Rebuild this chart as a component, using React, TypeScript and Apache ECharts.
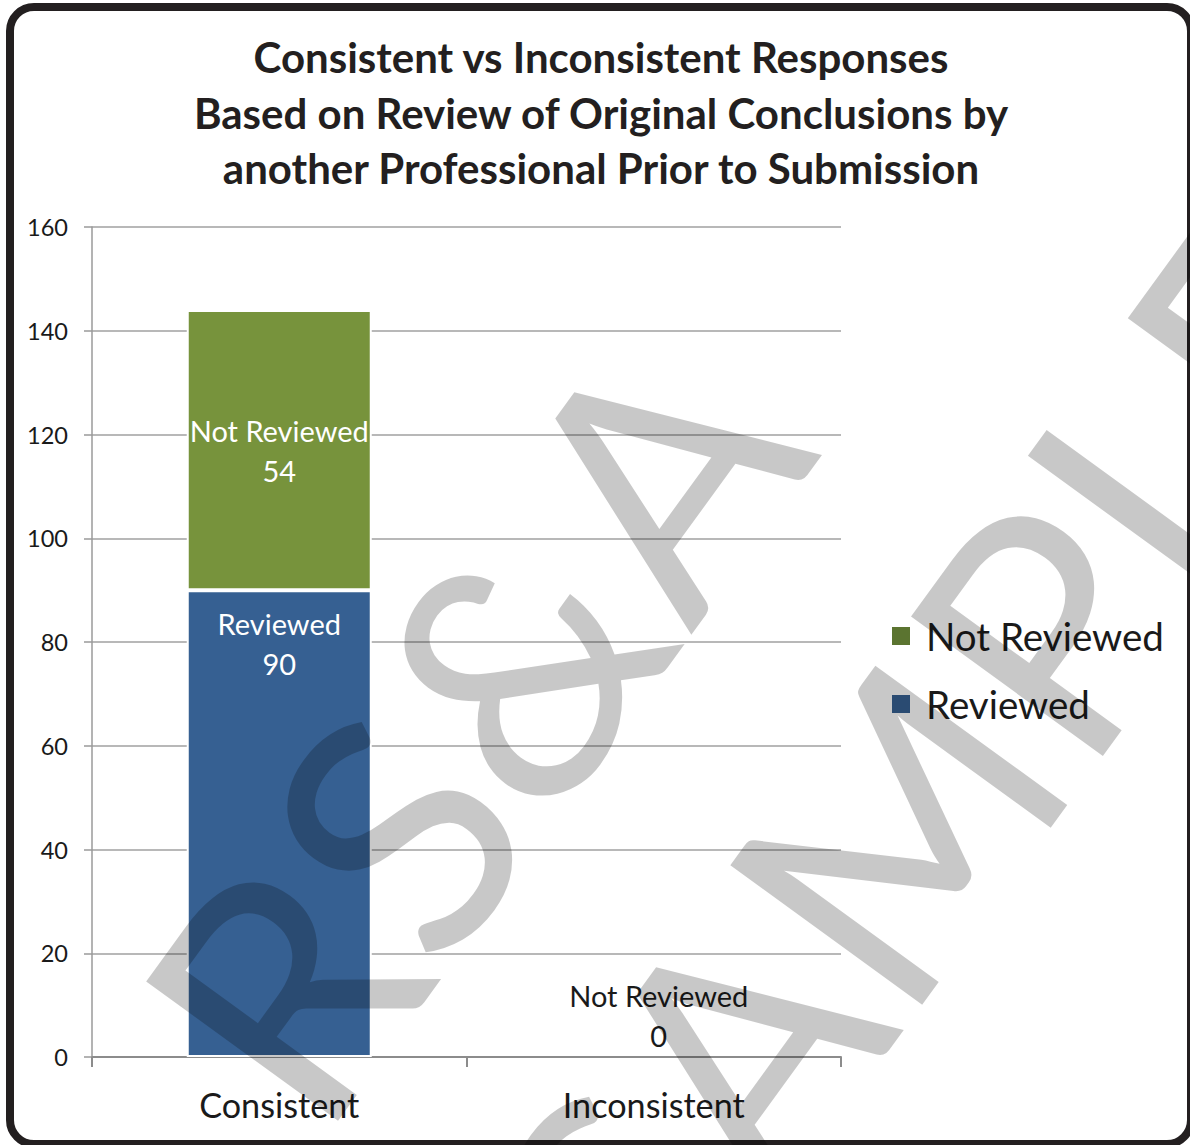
import React, { useEffect, useRef } from "react";
import * as echarts from "echarts";

const categories = ["Consistent", "Inconsistent"];
const reviewed = [90, 0];
const notReviewed = [54, 0];
const seriesNames = ["Reviewed", "Not Reviewed"];
const legendOrder = ["Not Reviewed", "Reviewed"];
const yMin = 0;
const yMax = 160;
const yInterval = 20;
const titleLines = [
  "Consistent vs Inconsistent Responses",
  "Based on Review of Original Conclusions by",
  "another Professional Prior to Submission",
];
const watermarkLines = ["RS&A", "SAMPLE"];

const W = 1190;
const H = 1145;
const FONT = "Lato";

function fit(text: string, weight: string, target: number): number {
  const c = document.createElement("canvas").getContext("2d");
  if (!c) return 20;
  c.font = `${weight} 100px ${FONT}`;
  const w = c.measureText(text).width;
  return (100 * target) / w;
}

export default function App() {
  const ref = useRef<HTMLDivElement>(null);
  useEffect(() => {
    document.body.style.margin = "0";
    if (!ref.current) return;
    const chart = echarts.init(ref.current, undefined, { renderer: "svg" });

    const titleSize = fit(titleLines[1], "bold", 816);
    const yLabSize = fit("160", "normal", 41);
    const xLabSize = fit("Inconsistent", "normal", 182);
    const xLabLH = Math.round(xLabSize * 1.2);
    const legendSize = fit("Not Reviewed", "normal", 238);
    const dataSize = fit("Not Reviewed", "normal", 179);

    const rot = (54 * Math.PI) / 180;
    const wmStyle = (text: string, align: string) => ({
      text,
      fill: "rgba(0,0,0,0.215)",
      font: `normal 331px ${FONT}`,
      align,
      verticalAlign: "middle",
    });

    const reviewedData = reviewed.map((v) =>
      v === 0 ? { value: v, label: { show: false }, itemStyle: { borderWidth: 0 } } : v
    );
    const notReviewedData = notReviewed.map((v) =>
      v === 0
        ? {
            value: v,
            itemStyle: { borderWidth: 0 },
            label: {
              show: true,
              position: "top",
              distance: 2,
              offset: [5, 0],
              color: "#1a1a1a",
            },
          }
        : v
    );

    const option: any = {
      animation: false,
      backgroundColor: "#ffffff",
      grid: { left: 92, right: 349, top: 227, bottom: 88, containLabel: false },
      xAxis: {
        type: "category",
        data: categories,
        axisLine: { show: true, lineStyle: { color: "#8c8c8c", width: 2 } },
        axisTick: { show: true, length: 10, lineStyle: { color: "#8c8c8c", width: 2 } },
        axisLabel: {
          color: "#1a1a1a",
          fontFamily: FONT,
          fontSize: xLabSize,
          lineHeight: xLabLH,
          margin: 47 - xLabLH / 2,
        },
      },
      yAxis: {
        type: "value",
        min: yMin,
        max: yMax,
        interval: yInterval,
        axisLine: { show: true, lineStyle: { color: "#9a9a9a", width: 1.5 } },
        axisTick: { show: true, length: 8, lineStyle: { color: "#9a9a9a", width: 1.5 } },
        splitLine: { show: true, lineStyle: { color: "#a0a0a0", width: 1.5 } },
        axisLabel: {
          color: "#1a1a1a",
          fontFamily: FONT,
          fontSize: yLabSize,
          margin: 24,
        },
      },
      legend: {
        orient: "vertical",
        left: 890,
        top: 616,
        padding: 0,
        itemWidth: 20,
        itemHeight: 20,
        itemGap: 28,
        icon: "rect",
        data: [
          { name: legendOrder[0], itemStyle: { color: "#5b7430" } },
          { name: legendOrder[1], itemStyle: { color: "#366092" } },
        ],
        textStyle: {
          color: "#1a1a1a",
          fontFamily: FONT,
          fontSize: legendSize,
          lineHeight: 40,
          padding: [0, 0, 0, 10],
        },
      },
      series: [
        {
          name: seriesNames[0],
          type: "bar",
          stack: "total",
          barWidth: 185,
          data: reviewedData,
          itemStyle: { color: "#366092", borderColor: "#ffffff", borderWidth: 2 },
          label: {
            show: true,
            position: "insideTop",
            distance: 13,
            formatter: "{a}\n{c}",
            color: "#ffffff",
            fontFamily: FONT,
            fontSize: dataSize,
            lineHeight: 40,
          },
        },
        {
          name: seriesNames[1],
          type: "bar",
          stack: "total",
          barWidth: 185,
          data: notReviewedData,
          itemStyle: { color: "#77933c", borderColor: "#ffffff", borderWidth: 2 },
          label: {
            show: true,
            position: "inside",
            formatter: "{a}\n{c}",
            color: "#ffffff",
            fontFamily: FONT,
            fontSize: dataSize,
            lineHeight: 40,
          },
        },
      ],
      graphic: [
        {
          type: "rect",
          z: -10,
          silent: true,
          shape: { x: 10, y: 7, width: 1181, height: 1137, r: 24 },
          style: { fill: "none", stroke: "#231f20", lineWidth: 8 },
        },
        ...titleLines.map((t, i) => ({
          type: "text",
          x: 601,
          y: 57 + i * 55.5,
          z: 10,
          silent: true,
          style: {
            text: t,
            fill: "#231f20",
            font: `bold ${titleSize}px ${FONT}`,
            align: "center",
            verticalAlign: "middle",
          },
        })),
        {
          type: "text",
          x: 719,
          y: 379,
          rotation: rot,
          z: 100,
          silent: true,
          style: wmStyle(watermarkLines[0], "right"),
        },
        {
          type: "text",
          x: 566,
          y: 1277,
          rotation: rot,
          z: 100,
          silent: true,
          style: wmStyle(watermarkLines[1], "left"),
        },
      ],
    };
    chart.setOption(option);
    return () => chart.dispose();
  }, []);
  return (
    <div
      ref={ref}
      style={{ position: "absolute", left: 0, top: 0, width: W, height: H, background: "#fff" }}
    />
  );
}
